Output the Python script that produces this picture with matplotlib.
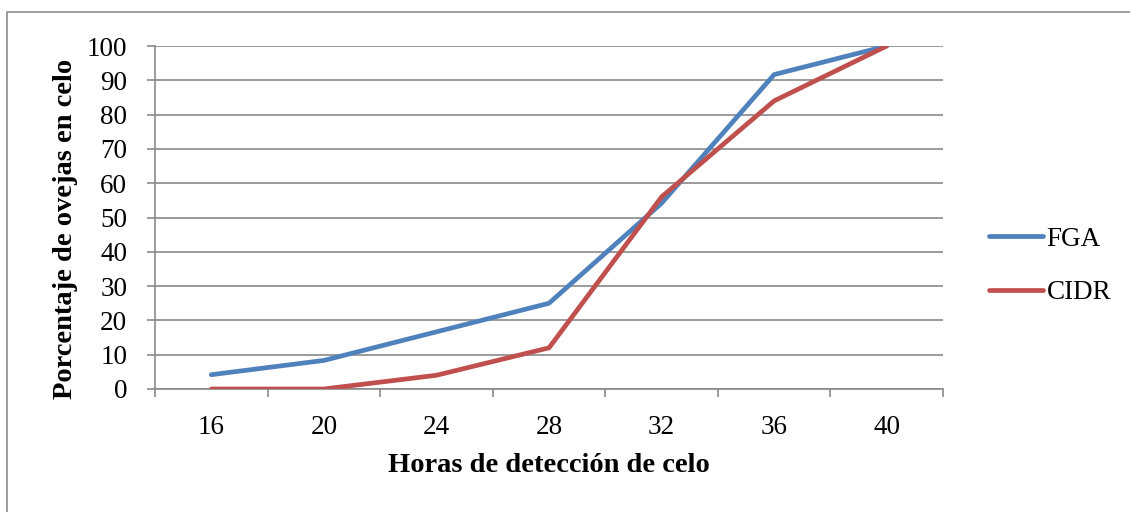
import matplotlib
matplotlib.use("Agg")
import matplotlib.pyplot as plt
from matplotlib.patches import Rectangle
from matplotlib.lines import Line2D

hours = ["16", "20", "24", "28", "32", "36", "40"]
fga = [4.17, 8.33, 16.67, 25.0, 54.17, 91.67, 100.0]
cidr = [0.0, 0.0, 4.0, 12.0, 56.0, 84.0, 100.0]
series_names = ["FGA", "CIDR"]
y_ticks = [0, 10, 20, 30, 40, 50, 60, 70, 80, 90, 100]

plt.rcParams["font.family"] = ["Liberation Serif", "DejaVu Serif"]

W, H = 1130, 512
fig = plt.figure(figsize=(W / 100, H / 100), dpi=100)
fig.patch.set_facecolor("white")

# chart frame
fig.patches.append(Rectangle((7 / W, -0.1), 1.2, (H - 12) / H + 0.1,
                             transform=fig.transFigure, fill=False,
                             edgecolor="#8c8c8c", linewidth=1.2))

ax = fig.add_axes([155 / W, 1 - 389 / H, (943 - 155) / W, (389 - 46) / H])

grid_c = "#8a8a8a"
blue = "#4F81BD"
red = "#C0504D"
lw = 3.4
fs = 19.5

x = list(range(len(hours)))
ax.plot(x, fga, color=blue, lw=lw, solid_capstyle="round", zorder=3)
ax.plot(x, cidr, color=red, lw=lw, solid_capstyle="round", zorder=3)

ax.set_xlim(-0.5, len(hours) - 0.5)
ax.set_ylim(0, 100)
ax.set_yticks(y_ticks)
ax.yaxis.grid(True, color=grid_c, lw=1.2)
ax.set_axisbelow(True)

ax.set_xticks([i - 0.5 for i in range(len(hours) + 1)])
ax.set_xticklabels([])
ax.set_xticks(x, minor=True)
ax.set_xticklabels(hours, minor=True)
ax.tick_params(axis="x", which="major", length=6, width=1.2, color=grid_c)
ax.tick_params(axis="x", which="minor", length=0, pad=19, labelsize=fs)
ax.tick_params(axis="y", length=6, width=1.2, color=grid_c, pad=14, labelsize=fs)

for s in ("top", "right"):
    ax.spines[s].set_visible(False)
for s in ("left", "bottom"):
    ax.spines[s].set_color(grid_c)
    ax.spines[s].set_linewidth(1.2)

fig.text(549 / W, 1 - 466 / H, "Horas de detección de celo", ha="center",
         va="center", fontsize=20.5, fontweight="bold")
fig.text(66 / W, 1 - 229 / H, "Porcentaje de ovejas en celo", ha="center",
         va="center", rotation=90, fontsize=20.5, fontweight="bold")

handles = [Line2D([], [], color=blue, lw=lw, solid_capstyle="round"),
           Line2D([], [], color=red, lw=lw, solid_capstyle="round")]
fig.legend(handles, series_names, loc="center left",
           bbox_to_anchor=(970 / W, 1 - 266 / H), frameon=False,
           fontsize=fs, handlelength=2.0, handletextpad=0.12,
           labelspacing=1.05, borderpad=0.2)

fig.savefig("out.png", dpi=100, facecolor="white")
